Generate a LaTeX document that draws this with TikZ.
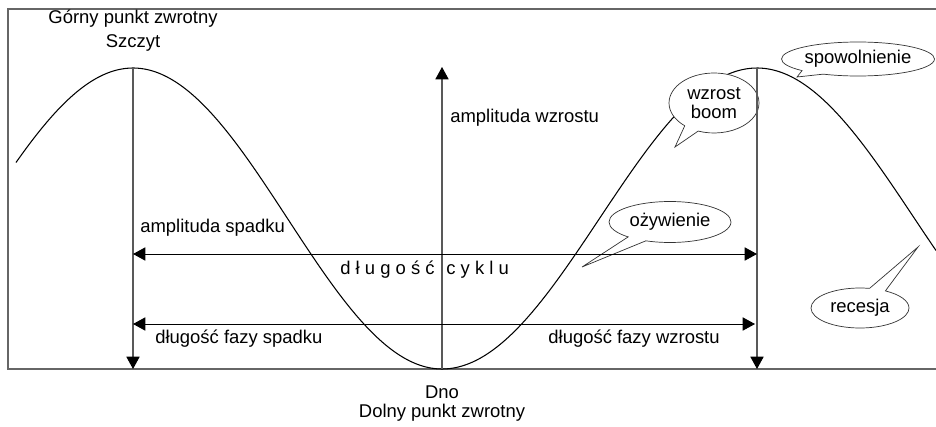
\documentclass[tikz,border=0pt]{standalone}
\usepackage{fontspec}
\setmainfont{Liberation Sans}
\usetikzlibrary{arrows.meta,positioning,shapes.callouts}

\begin{document}
\begin{tikzpicture}[x=0.02cm,y=-0.02cm,
    font=\fontsize{10.5}{12.5}\selectfont,
    frame/.style={draw=black!60,line width=0.8pt},
    vline/.style={draw=black!65,line width=0.6pt},
    dimline/.style={line width=0.5pt},
    tip/.style={-{Triangle[length=7pt,width=7.5pt,black]}},
    tips/.style={{Triangle[length=7pt,width=7.5pt]}-{Triangle[length=7pt,width=7.5pt]}},
    bubble/.style={ellipse callout,draw=black!80,fill=white,line width=0.4pt,
        inner sep=0pt,callout pointer arc=20},
    lbl/.style={inner sep=0pt},
    curve/.style={line width=0.6pt}]
    \useasboundingbox (0,0) rectangle (936,426);

    % frame, open on the right
    \draw[frame] (936,9) -- (8,9) -- (8,369) -- (936,369);

    % turning points
    \coordinate (peakL) at (133,68);
    \coordinate (baseL) at (133,369);
    \coordinate (trough) at (442,369);
    \coordinate (peakM) at (442,67);
    \coordinate (peakR) at (757,68);
    \coordinate (baseR) at (757,369);
    \coordinate (cycL) at (133,254);
    \coordinate (cycR) at (757,254);
    \coordinate (phL) at (133,324);
    \coordinate (phR) at (755,324);

    % the cycle
    \draw[curve] plot[domain=16:442,samples=80,smooth]
        (\x,{218.5-150.5*cos((\x-133)/309*180)});
    \draw[curve] plot[domain=442:936,samples=90,smooth]
        (\x,{218.5-150.5*cos((\x-757)/315*180)});

    % phases
    \node[bubble,minimum width=1.8cm,minimum height=1.2cm,align=center,
        font=\fontsize{10.5}{11}\selectfont,
        callout absolute pointer={(675,147)}] (boom) at (714,103) {wzrost\\boom};
    \node[bubble,minimum width=3.06cm,minimum height=0.68cm,
        callout absolute pointer={(797,77)}] (slowdown) at (858,59) {spowolnienie};
    \node[bubble,minimum width=2.44cm,minimum height=0.82cm,
        callout absolute pointer={(582,267)}] (revival) at (670,222) {ożywienie};
    \node[bubble,minimum width=1.96cm,minimum height=0.8cm,
        callout absolute pointer={(918,247)}] (recession) at (860,308) {recesja};

    % amplitudes and lengths
    \draw[vline,tip] (peakL) -- (baseL);
    \draw[vline,tip] (trough) -- (peakM);
    \draw[vline,tip] (peakR) -- (baseR);
    \draw[dimline,tips] (cycL) -- (cycR);
    \draw[dimline,tips] (phL) -- (phR);

    % labels
    \node[align=center,font=\fontsize{10.5}{13.6}\selectfont] (top) at (133,31)
        {Górny punkt zwrotny\\Szczyt};
    \node[align=center,font=\fontsize{10.5}{10.8}\selectfont] (bottom) at (442,404)
        {Dno\\Dolny punkt zwrotny};
    \node[lbl,anchor=west] (ampDown) at (140,228) {amplituda spadku};
    \node[lbl,anchor=west] (ampUp) at (450,118) {amplituda wzrostu};
    \node[lbl,anchor=east] (cycleA) at (435,270) {d ł u g o ś ć};
    \node[lbl,anchor=west] (cycleB) at (446,270) {c y k l u};
    \node[lbl,anchor=west] (fallLen) at (155,339) {długość fazy spadku};
    \node[lbl,anchor=east] (riseLen) at (720,339) {długość fazy wzrostu};
\end{tikzpicture}
\end{document}
